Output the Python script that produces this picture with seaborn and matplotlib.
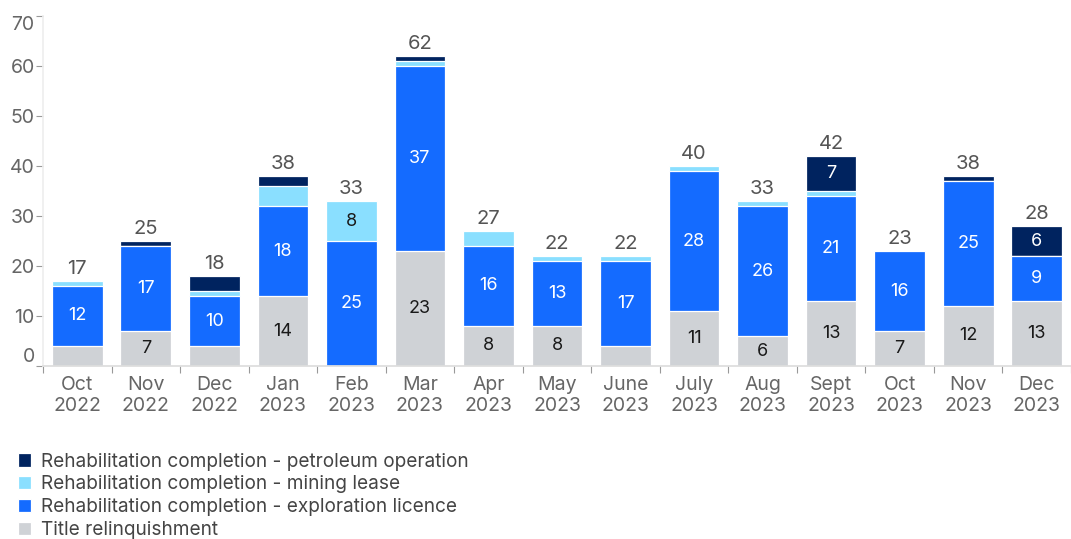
import numpy as np
import pandas as pd
import matplotlib.pyplot as plt
import seaborn as sns

# Données
months = ["Oct\n2022", "Nov\n2022", "Dec\n2022", "Jan\n2023", "Feb\n2023", "Mar\n2023",
          "Apr\n2023", "May\n2023", "June\n2023", "July\n2023", "Aug\n2023", "Sept\n2023",
          "Oct\n2023", "Nov\n2023", "Dec\n2023"]
title_relinquishment = [4, 7, 4, 14, 0, 23, 8, 8, 4, 11, 6, 13, 7, 12, 13]
exploration_licence = [12, 17, 10, 18, 25, 37, 16, 13, 17, 28, 26, 21, 16, 25, 9]
mining_lease = [1, 0, 1, 4, 8, 1, 3, 1, 1, 1, 1, 1, 0, 0, 0]
petroleum_operation = [0, 1, 3, 2, 0, 1, 0, 0, 0, 0, 0, 7, 0, 1, 6]

series_names = ["Title relinquishment",
                "Rehabilitation completion - exploration licence",
                "Rehabilitation completion - mining lease",
                "Rehabilitation completion - petroleum operation"]
colors = ["#CFD2D6", "#146BFF", "#8ADFFF", "#00235F"]
text_colors = ["#1a1a1a", "white", "#1a1a1a", "white"]

sns.set_theme(style="white")
plt.rcParams['font.family'] = ['Inter', 'DejaVu Sans']

df = pd.DataFrame({
    "month": months,
    series_names[0]: title_relinquishment,
    series_names[1]: exploration_licence,
    series_names[2]: mining_lease,
    series_names[3]: petroleum_operation,
})
values = df[series_names].to_numpy()
cum = values.cumsum(axis=1)
df["total"] = cum[:, -1]

fig = plt.figure(figsize=(10.71, 5.39), dpi=100)
ax = fig.add_axes([43 / 1071, 1 - 366 / 539, 1 - 43 / 1071, 350 / 539])

# Barres empilées : on trace les cumuls du haut vers le bas
for k in range(3, -1, -1):
    sns.barplot(x=df["month"], y=cum[:, k], order=months, color=colors[k],
                saturation=1, width=0.74, edgecolor="white", linewidth=0.9, ax=ax,
                label=series_names[k])

# Étiquettes dans les segments
for i in range(len(months)):
    base = 0
    for k in range(4):
        v = values[i, k]
        if v >= 5:
            ax.text(i, base + v / 2, str(v), ha="center", va="center",
                    color=text_colors[k], fontsize=13)
        base += v
    ax.text(i, df["total"][i] + 0.6, str(df["total"][i]), ha="center", va="bottom",
            color="#555555", fontsize=14.5)

ax.set_xlim(-0.5, 14.38)
ax.set_ylim(0, 70)
ax.set_xlabel("")
ax.set_ylabel("")
ax.set_yticks(range(0, 71, 10))
ax.tick_params(axis="y", length=5, width=0.8, color="#999999", pad=1,
               labelsize=14, labelcolor="#666666", left=True)
ylabels = ax.get_yticklabels()
ylabels[0].set_va("bottom")
ylabels[-1].set_va("top")

ax.set_xticks(range(len(months)))
ax.set_xticklabels(months, linespacing=1.2)
ax.set_xticks(np.arange(-0.5, 15, 1), minor=True)
ax.tick_params(axis="x", which="major", length=0, pad=7, labelsize=14, labelcolor="#666666")
ax.tick_params(axis="x", which="minor", length=5, width=0.8, color="#999999", bottom=True)

for s in ["top", "right"]:
    ax.spines[s].set_visible(False)
ax.spines["left"].set_color("#eeeeee")
ax.spines["bottom"].set_color("#dddddd")

# Légende
handles, labels = ax.get_legend_handles_labels()
if ax.legend_:
    ax.legend_.remove()
fig.legend(handles, labels, loc="upper left", bbox_to_anchor=(0.008, 1 - 443 / 539),
           frameon=False, fontsize=13.7, labelcolor="#444444", handlelength=0.7,
           handleheight=0.7, handletextpad=0.5, labelspacing=0.26, borderpad=0)

fig.savefig("out.png", dpi=100)
